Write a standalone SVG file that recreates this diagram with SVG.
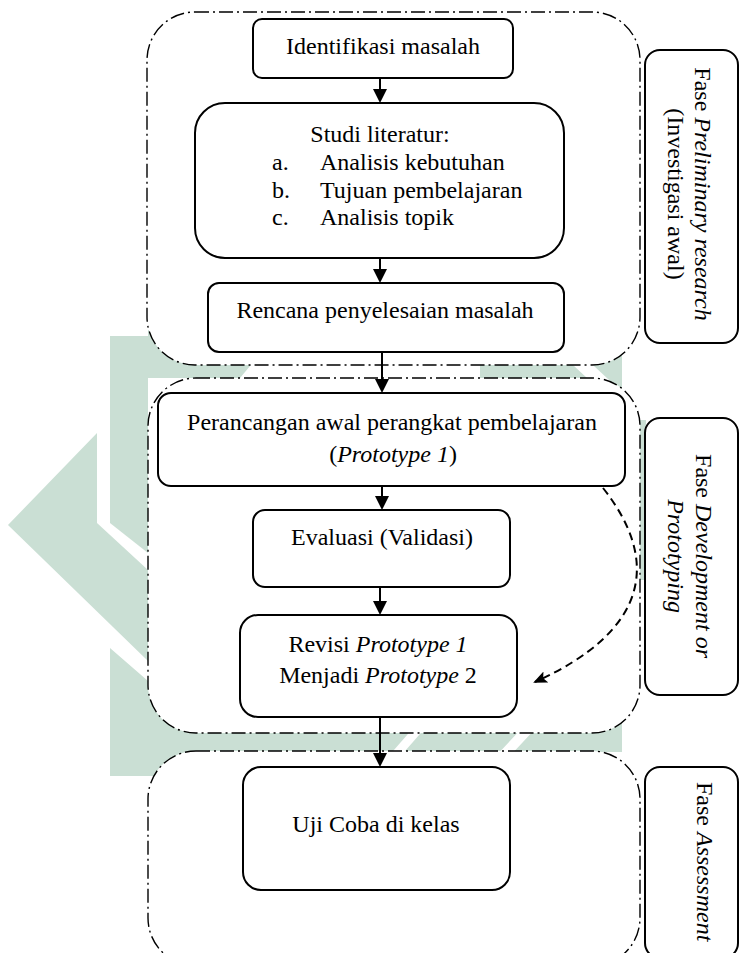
<svg xmlns="http://www.w3.org/2000/svg" width="739" height="953" viewBox="0 0 739 953">
<style>
.wm{fill:#cadfd4}
.wms{fill:#ffffff}
.phase{fill:#ffffff;stroke:#000;stroke-width:1.4;stroke-dasharray:14 4 2 4}
.box{fill:#ffffff;stroke:#000;stroke-width:2}
.lab{fill:#ffffff;stroke:#000;stroke-width:2}
text{font-family:"Liberation Serif","Times New Roman",serif;font-size:24px;fill:#000}
.c{text-anchor:middle}
.arr{stroke:#000;stroke-width:2;fill:none}
.dash{stroke:#000;stroke-width:2;fill:none;stroke-dasharray:8 5}
</style>
<defs>
<marker id="ah" markerUnits="userSpaceOnUse" markerWidth="16" markerHeight="16" refX="6" refY="7" orient="auto">
<path d="M0,0 L14,7 L0,14 Z" fill="#000"/>
</marker>
<marker id="ahd" markerUnits="userSpaceOnUse" markerWidth="16" markerHeight="14" refX="12" refY="6" orient="auto">
<path d="M0,0 L14,6 L0,12 L3,6 Z" fill="#000"/>
</marker>
</defs>
<rect width="739" height="953" fill="#ffffff"/>
<g id="watermark">
<path class="wm" d="M97,433 L8,525 L148,661 L148,570 L97,523 Z"/>
<path class="wm" d="M110,336 L148,336 L148,553 L110,523 Z"/>
<path class="wm" d="M148,330 L255,330 L255,360 L240,378 L148,378 Z"/>
<path class="wm" d="M480,340 L546,340 L587,378 L480,378 Z"/>
<path class="wm" d="M566,340 L622,340 L622,392 Z"/>
<rect class="wm" x="600" y="420" width="46" height="160"/>
<path class="wm" d="M110,648 L148,681 L148,690 L622,690 L622,752 L200,752 L200,776 L110,776 Z"/>
<path class="wms" d="M387,758 L399,758 L426,727 L414,727 Z"/>
<path class="wms" d="M494,758 L508,758 L537,727 L523,727 Z"/>
</g>
<g id="phase-preliminary">
<rect class="phase" x="147" y="12" width="493" height="353" rx="48"/>
</g>
<g id="phase-development">
<rect class="phase" x="148" y="378" width="492" height="355" rx="48"/>
</g>
<g id="phase-assessment">
<rect class="phase" x="148" y="751" width="492" height="215" rx="48"/>
</g>
<g id="n-identifikasi">
<rect class="box" x="253" y="19" width="260" height="59" rx="9"/>
<text class="c" x="383" y="54">Identifikasi masalah</text>
</g>
<g id="n-studi">
<rect class="box" x="195" y="103" width="369" height="155" rx="30"/>
<text class="c" x="380" y="142">Studi literatur:</text>
<text x="272" y="170">a.</text><text x="320" y="170">Analisis kebutuhan</text>
<text x="272" y="198">b.</text><text x="320" y="198">Tujuan pembelajaran</text>
<text x="272" y="225">c.</text><text x="320" y="225">Analisis topik</text>
</g>
<g id="n-rencana">
<rect class="box" x="208" y="283" width="356" height="69" rx="11"/>
<text class="c" x="385" y="318">Rencana penyelesaian masalah</text>
</g>
<g id="n-perancangan">
<rect class="box" x="158" y="393" width="467" height="93" rx="13"/>
<text class="c" x="392" y="430">Perancangan awal perangkat pembelajaran</text>
<text class="c" x="393" y="462">(<tspan font-style="italic">Prototype 1</tspan>)</text>
</g>
<g id="n-evaluasi">
<rect class="box" x="253" y="510" width="257" height="77" rx="12"/>
<text class="c" x="382" y="545">Evaluasi (Validasi)</text>
</g>
<g id="n-revisi">
<rect class="box" x="240" y="615" width="277" height="102" rx="18"/>
<text class="c" x="378" y="652">Revisi <tspan font-style="italic">Prototype 1</tspan></text>
<text class="c" x="378" y="683">Menjadi <tspan font-style="italic">Prototype</tspan> 2</text>
</g>
<g id="n-uji">
<rect class="box" x="243" y="767" width="267" height="123" rx="18"/>
<text class="c" x="376" y="832">Uji Coba di kelas</text>
</g>
<g id="label-preliminary">
<rect class="lab" x="645" y="50" width="93" height="293" rx="15"/>
<text class="c" transform="translate(695,194) rotate(90)">Fase <tspan font-style="italic">Preliminary research</tspan></text>
<text class="c" transform="translate(668,194) rotate(90)">(Investigasi awal)</text>
</g>
<g id="label-development">
<rect class="lab" x="645" y="418" width="93" height="277" rx="15"/>
<text class="c" transform="translate(696,556) rotate(90)">Fase <tspan font-style="italic">Development or</tspan></text>
<text class="c" transform="translate(668,556) rotate(90)" font-style="italic">Prototyping</text>
</g>
<g id="label-assessment">
<rect class="lab" x="645" y="767" width="93" height="191" rx="15"/>
<text transform="translate(697,782) rotate(90)">Fase <tspan font-style="italic">Assessment</tspan></text>
</g>
<g id="connectors">
<line class="arr" x1="380" y1="78" x2="380" y2="95" marker-end="url(#ah)"/>
<line class="arr" x1="380" y1="258" x2="380" y2="275" marker-end="url(#ah)"/>
<line class="arr" x1="382" y1="352" x2="382" y2="385" marker-end="url(#ah)"/>
<line class="arr" x1="382" y1="486" x2="382" y2="502" marker-end="url(#ah)"/>
<line class="arr" x1="380" y1="587" x2="380" y2="607" marker-end="url(#ah)"/>
<line class="arr" x1="380" y1="717" x2="380" y2="759" marker-end="url(#ah)"/>
<path class="dash" d="M603,488 C660,560 650,630 535,682" marker-end="url(#ahd)"/>
</g>
</svg>
